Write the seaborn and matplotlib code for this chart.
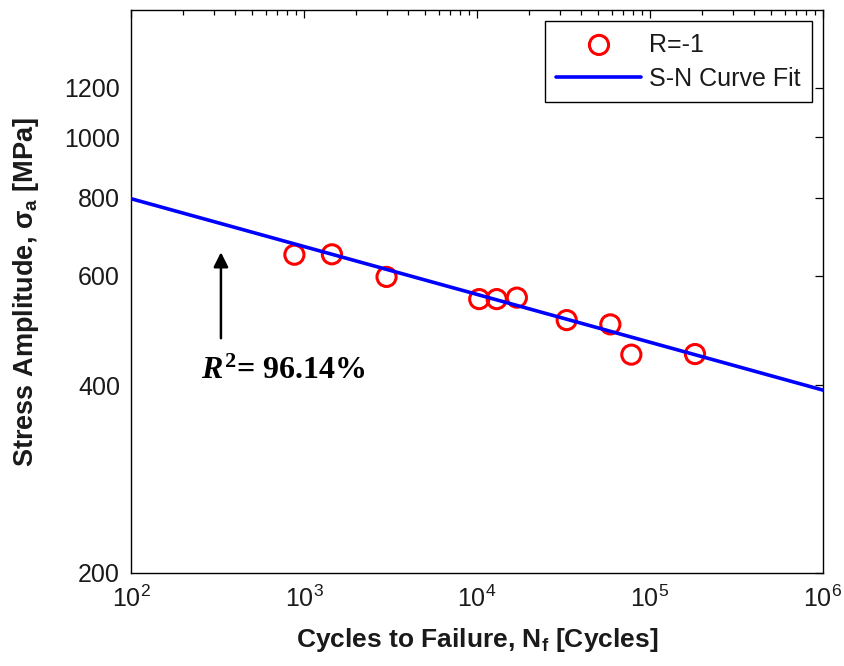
import numpy as np
import pandas as pd
import matplotlib
matplotlib.use("Agg")
import matplotlib.pyplot as plt
import seaborn as sns
from matplotlib.ticker import FixedLocator, FixedFormatter, NullFormatter, NullLocator, LogLocator

# Fatigue test results, fully reversed loading (R = -1)
cycles = [880, 1450, 3000, 10300, 13000, 17000, 33000, 59000, 78000, 182000]
stress = [648, 649, 597, 550, 550, 553, 509, 501, 448, 449]

# Power-law S-N fit, evaluated at the ends of the cycle range
fit_cycles = [1e2, 1e6]
fit_stress = [797, 393]

y_ticks = [200, 400, 600, 800, 1000, 1200]
x_limits = (1e2, 1e6)
y_limits = (200, 1600)

r2_text = r"$R^{2}$= 96.14%"

sns.set_theme(style="white")
plt.rcParams["font.family"] = ["Liberation Sans", "DejaVu Sans"]
plt.rcParams["mathtext.fontset"] = "custom"
plt.rcParams["mathtext.it"] = "Liberation Serif:italic:bold"
plt.rcParams["mathtext.rm"] = "Liberation Serif:bold"
plt.rcParams["mathtext.sf"] = "Liberation Sans:bold"

fig = plt.figure(figsize=(8.45, 6.66), dpi=100)
ax = fig.add_axes([131 / 845, 93 / 666, 692 / 845, 563 / 666])

pts = pd.DataFrame({"N": cycles, "S": stress})
fit = pd.DataFrame({"N": fit_cycles, "S": fit_stress})

sns.scatterplot(data=pts, x="N", y="S", ax=ax, marker="o", s=190,
                facecolors="none", edgecolor="#ff0000", linewidth=2.2,
                label="R=-1", zorder=3)
sns.lineplot(data=fit, x="N", y="S", ax=ax, color="#0000ff", linewidth=2.6,
             label="S-N Curve Fit", zorder=4)

ax.set_xscale("log")
ax.set_yscale("log")
ax.set_xlim(*x_limits)
ax.set_ylim(*y_limits)

ax.yaxis.set_major_locator(FixedLocator(y_ticks))
ax.yaxis.set_major_formatter(FixedFormatter([str(t) for t in y_ticks]))
ax.yaxis.set_minor_locator(NullLocator())
ax.xaxis.set_major_locator(LogLocator(base=10, numticks=10))
ax.xaxis.set_minor_locator(LogLocator(base=10, subs=np.arange(2, 10), numticks=50))
ax.xaxis.set_minor_formatter(NullFormatter())

for side in ["top", "right", "bottom", "left"]:
    ax.spines[side].set_visible(True)
    ax.spines[side].set_color("black")
    ax.spines[side].set_linewidth(1.0)

ax.tick_params(axis="both", which="major", direction="in", length=6, width=0.9,
               color="black", labelsize=18, labelcolor="#1a1a1a",
               top=True, right=True, pad=8)
ax.tick_params(axis="both", which="minor", direction="in", length=3.5, width=0.9,
               color="black", top=True, right=True)
ax.tick_params(axis="x", which="major", pad=9)

ax.set_xlabel(r"Cycles to Failure, $\mathsf{N_f}$ [Cycles]", fontsize=19,
              fontweight="bold", color="#1a1a1a")
ax.set_ylabel(r"Stress Amplitude, $\mathsf{\sigma_a}$ [MPa]", fontsize=19.5,
              fontweight="bold", color="#1a1a1a")
ax.xaxis.set_label_coords(0.5, -0.095)
ax.yaxis.set_label_coords(-0.13, 0.5)

leg = ax.legend(loc="upper right", fontsize=18, frameon=True, fancybox=False,
                edgecolor="black", framealpha=1, handlelength=3.4,
                handletextpad=0.3, borderpad=0.45, labelspacing=0.4,
                borderaxespad=0.45)
leg.get_frame().set_linewidth(1.0)
for t in leg.get_texts():
    t.set_color("#1a1a1a")

ax.annotate("", xy=(331, 654), xytext=(331, 476),
            arrowprops=dict(arrowstyle="-|>", color="black", lw=1.8,
                            mutation_scale=22, shrinkA=0, shrinkB=0))
ax.text(757, 409, r2_text, ha="center", va="baseline", fontsize=23,
        fontfamily="Liberation Serif", fontweight="bold", color="black")

fig.savefig("out.png", dpi=100, facecolor="white")
